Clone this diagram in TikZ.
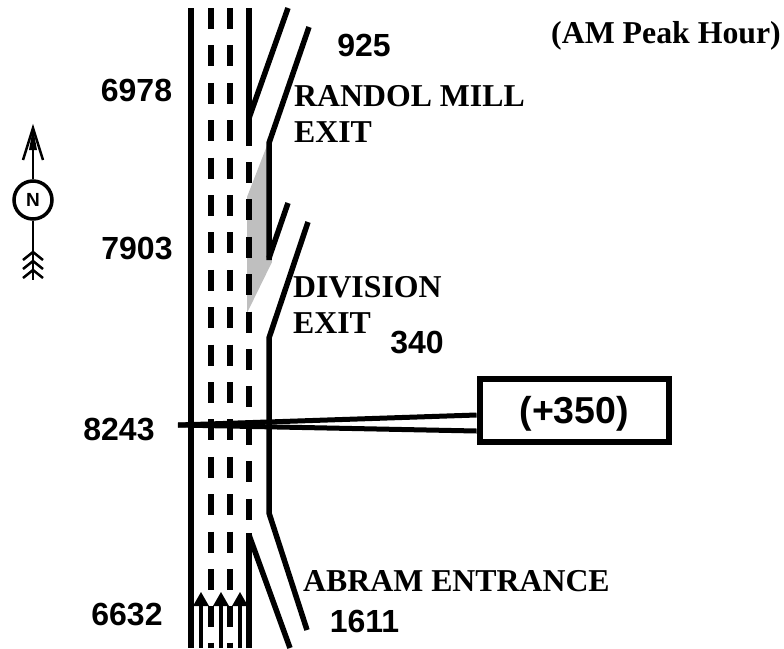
\documentclass[tikz,border=0pt]{standalone}
\usepackage{fontspec}
\setmainfont{Liberation Serif}
\setsansfont{Liberation Sans}
\usepackage{xcolor}
\usetikzlibrary{arrows.meta, positioning}
\definecolor{gorefill}{gray}{0.75}
\tikzset{
    roadline/.style={line width=5.5pt},
    laneline/.style={line width=6pt},
    volume/.style={font=\sffamily\bfseries\fontsize{32}{36}\selectfont},
    ramplabel/.style={font=\rmfamily\bfseries\fontsize{31.8}{36.5}\selectfont, align=left, inner sep=0pt},
}

\begin{document}
\begin{tikzpicture}[x=1pt, y=-1pt, >=Stealth]
\useasboundingbox (0,0) rectangle (784,648);

% gore area between the exits
\fill[gorefill] (268,143) -- (247,197) -- (247,313) -- (272,262) -- cycle;

% mainline edge
\draw[roadline] (191,8) -- (191,648);

% lane dashes
\foreach \y in {8, 45.4, ..., 620} {
    \draw[laneline] (211,\y) -- (211,\y+21);
    \draw[laneline] (230,\y) -- (230,\y+21);
}
\draw[laneline] (211,642.6) -- (211,648);
\draw[laneline] (230,642.6) -- (230,648);

% auxiliary lane dashes
\draw[roadline] (249,8) -- (249,120);
\draw[laneline] (249,120) -- (249,146);
\foreach \y in {162, 199.4, ..., 510} {
    \draw[laneline] (249,\y) -- (249,\y+21);
}

% exit and entrance ramps
\draw[roadline] (288,8) -- (249,118);
\draw[roadline] (309,27) -- (269,143) -- (269,260);
\draw[roadline] (269,258) -- (288,203);
\draw[roadline] (308,222) -- (269,338) -- (269,513) -- (307,630);
\draw[roadline] (290,648) -- (249,535);
\draw[roadline] (249,533) -- (249,648);

% lane arrows
\foreach \x in {201, 221, 240} {
    \fill (\x-8,606) -- (\x,592) -- (\x+8,606) -- cycle;
    \draw[line width=4pt] (\x,604) -- (\x,648);
}

% callout
\coordinate (calltip) at (178,425);
\node[draw, line width=6pt, minimum width=189.5pt, minimum height=62.5pt, inner sep=0pt,
      font=\sffamily\bfseries\fontsize{37.5}{40}\selectfont] (callbox) at (574.3,410.7) {\raisebox{-12.3pt}[0pt][0pt]{(+350)}};
\draw[line width=5pt] (calltip) -- (callbox.west |- 0,415);
\draw[line width=5pt] (calltip) -- (callbox.west |- 0,431);

% north arrow
\node[draw, circle, line width=3.5pt, minimum size=38pt, inner sep=0pt,
      font=\sffamily\bfseries\fontsize{19}{20}\selectfont] (north) at (33,200) {N};
\coordinate (northtip) at (33,128);
\coordinate (northtail) at (33,280);
\draw[line width=2.5pt] (north) -- (northtip);
\fill (northtip) -- (37,150) -- (29,150) -- cycle;
\draw[line width=2.5pt] (23,160) -- (northtip) -- (43,160);
\draw[line width=2.5pt] (north) -- (northtail);
\foreach \y in {252, 261, 270} {
    \draw[line width=2.5pt] (23,\y+8) -- (33,\y) -- (43,\y+8);
}

% volumes
\node[volume] (v6978) at (136.5,90) {6978};
\node[volume] (v7903) at (137,249) {7903};
\node[volume] (v8243) at (119,430) {8243};
\node[volume] (v6632) at (127,614) {6632};
\node[volume] (v925) at (364,45) {925};
\node[volume] (v340) at (417,343) {340};
\node[volume] (v1611) at (364.5,621) {1611};

% labels
\node[ramplabel, anchor=north west] (title) at (551,21) {(AM Peak Hour)};
\node[ramplabel, anchor=north west] (randol) at (294,85) {RANDOL MILL\\EXIT};
\node[ramplabel, anchor=north west] (division) at (293,276) {DIVISION\\EXIT};
\node[ramplabel, anchor=north west] (abram) at (303,570) {ABRAM ENTRANCE};

\end{tikzpicture}
\end{document}
